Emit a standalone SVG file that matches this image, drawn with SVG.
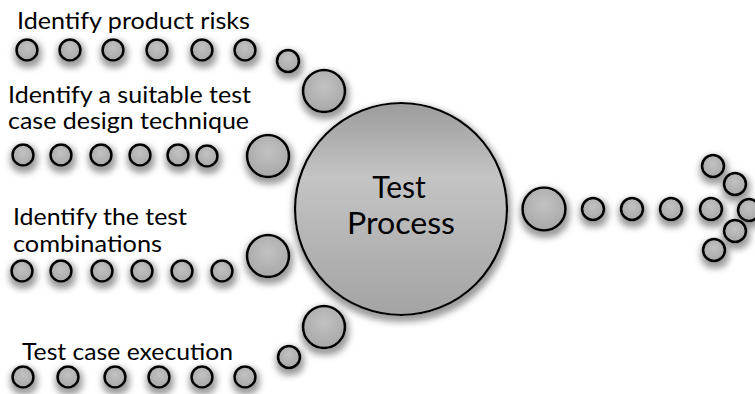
<svg xmlns="http://www.w3.org/2000/svg" width="755" height="394" viewBox="0 0 755 394">
  <defs>
    <filter id="shadow" x="-60%" y="-60%" width="220%" height="220%">
      <feMorphology in="SourceAlpha" operator="dilate" radius="1.5" result="d"/>
      <feGaussianBlur in="d" stdDeviation="3.2"/>
      <feOffset dx="1" dy="4" result="b"/>
      <feFlood flood-color="#8c8c8c" flood-opacity="0.85"/>
      <feComposite in2="b" operator="in" result="s"/>
      <feMerge><feMergeNode in="s"/><feMergeNode in="SourceGraphic"/></feMerge>
    </filter>
    <linearGradient id="mainGrad" x1="0" y1="0" x2="0" y2="1">
      <stop offset="0" stop-color="#9c9c9c"/>
      <stop offset="0.35" stop-color="#c4c4c4"/>
      <stop offset="0.7" stop-color="#b2b2b2"/>
      <stop offset="1" stop-color="#a4a4a4"/>
    </linearGradient>
    <radialGradient id="bubGrad" cx="0.5" cy="0.4" r="0.6">
      <stop offset="0" stop-color="#c2c2c2"/>
      <stop offset="1" stop-color="#a8a8a8"/>
    </radialGradient>
  </defs>
  <style>
    .b { fill: url(#bubGrad); stroke: #000; stroke-width: 2.6; filter: url(#shadow); }
    .main { fill: url(#mainGrad); stroke: #000; stroke-width: 2.2; filter: url(#shadow); }
    .lbl { font-family: Lato, "Open Sans", "DejaVu Sans", sans-serif; font-size: 23px; fill: #000; }
    .ctr { font-family: Lato, "Open Sans", "DejaVu Sans", sans-serif; font-size: 30px; fill: #000; text-anchor: middle; }
  </style>
  <rect width="755" height="394" fill="#fff"/>

  <g id="connectors">
    <g id="chain-product-risks">
      <circle class="b" cx="27" cy="50" r="10.5"/>
      <circle class="b" cx="70" cy="50" r="10.5"/>
      <circle class="b" cx="113" cy="50" r="10.5"/>
      <circle class="b" cx="157" cy="50" r="10.5"/>
      <circle class="b" cx="202" cy="50" r="10.5"/>
      <circle class="b" cx="245" cy="50" r="10.5"/>
      <circle class="b" cx="288" cy="61" r="11"/>
      <circle class="b" cx="324" cy="91" r="21"/>
    </g>
    <g id="chain-design-technique">
      <circle class="b" cx="23" cy="155" r="10.5"/>
      <circle class="b" cx="61" cy="155" r="10.5"/>
      <circle class="b" cx="101" cy="155" r="10.5"/>
      <circle class="b" cx="140" cy="155" r="10.5"/>
      <circle class="b" cx="178" cy="155" r="10.5"/>
      <circle class="b" cx="207" cy="156" r="10.5"/>
      <circle class="b" cx="268" cy="156" r="21"/>
    </g>
    <g id="chain-combinations">
      <circle class="b" cx="22" cy="271" r="10.5"/>
      <circle class="b" cx="61" cy="271" r="10.5"/>
      <circle class="b" cx="102" cy="271" r="10.5"/>
      <circle class="b" cx="142" cy="271" r="10.5"/>
      <circle class="b" cx="182" cy="271" r="10.5"/>
      <circle class="b" cx="222" cy="271" r="10.5"/>
      <circle class="b" cx="268" cy="256" r="21"/>
    </g>
    <g id="chain-execution">
      <circle class="b" cx="23" cy="377" r="10.5"/>
      <circle class="b" cx="68" cy="377" r="10.5"/>
      <circle class="b" cx="115" cy="377" r="10.5"/>
      <circle class="b" cx="159" cy="377" r="10.5"/>
      <circle class="b" cx="202" cy="377" r="10.5"/>
      <circle class="b" cx="245" cy="377" r="10.5"/>
      <circle class="b" cx="289" cy="357" r="11"/>
      <circle class="b" cx="324" cy="327" r="21"/>
    </g>
    <g id="chain-output">
      <circle class="b" cx="544" cy="209" r="21.5"/>
      <circle class="b" cx="593" cy="209" r="11"/>
      <circle class="b" cx="632" cy="209" r="11"/>
      <circle class="b" cx="671" cy="209" r="11"/>
      <circle class="b" cx="711" cy="209" r="11"/>
      <circle class="b" cx="713" cy="166" r="11"/>
      <circle class="b" cx="735" cy="184" r="11"/>
      <circle class="b" cx="749" cy="210" r="11"/>
      <circle class="b" cx="735" cy="231" r="11"/>
      <circle class="b" cx="714" cy="250" r="11"/>
    </g>
  </g>

  <g id="test-process">
    <circle class="main" cx="401" cy="209" r="106"/>
    <text class="ctr" x="399" y="198">Test</text>
    <text class="ctr" x="401" y="234" textLength="108" lengthAdjust="spacingAndGlyphs">Process</text>
  </g>

  <g id="label-product-risks">
    <text class="lbl" x="17" y="29" textLength="233" lengthAdjust="spacingAndGlyphs">Identify product risks</text>
  </g>
  <g id="label-design-technique">
    <text class="lbl" x="8" y="103" textLength="243" lengthAdjust="spacingAndGlyphs">Identify a suitable test</text>
    <text class="lbl" x="8" y="129" textLength="241" lengthAdjust="spacingAndGlyphs">case design technique</text>
  </g>
  <g id="label-combinations">
    <text class="lbl" x="13" y="225" textLength="174" lengthAdjust="spacingAndGlyphs">Identify the test</text>
    <text class="lbl" x="13" y="252" textLength="149" lengthAdjust="spacingAndGlyphs">combinations</text>
  </g>
  <g id="label-execution">
    <text class="lbl" x="22" y="360" textLength="211" lengthAdjust="spacingAndGlyphs">Test case execution</text>
  </g>
</svg>
